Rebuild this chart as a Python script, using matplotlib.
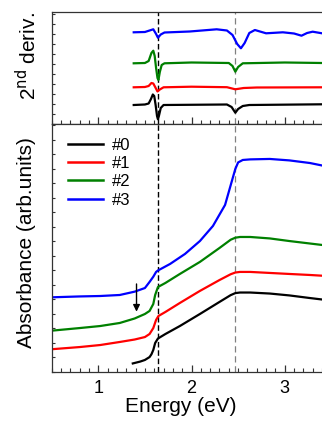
import matplotlib
matplotlib.use("Agg")
import matplotlib.pyplot as plt
from matplotlib.ticker import MultipleLocator, NullFormatter

plt.rcParams['font.family'] = ['Liberation Sans', 'DejaVu Sans']

# ---------------- data ----------------
labels = ["#0", "#1", "#2", "#3"]
colors = ["#000000", "#ff0000", "#008000", "#0000ff"]

# Absorbance (arb. units, offset)
abs0_x = [1.37, 1.45, 1.50, 1.55, 1.57, 1.59, 1.61, 1.64, 1.72, 1.875, 2.09, 2.30, 2.42, 2.47, 2.52, 2.63, 2.84, 3.05, 3.27, 3.40]
abs0_y = [0.59, 0.72, 0.83, 1.03, 1.22, 1.52, 2.00, 2.31, 2.62, 3.17, 4.00, 4.83, 5.30, 5.44, 5.48, 5.48, 5.41, 5.28, 5.10, 5.00]

abs1_x = [0.50, 0.80, 1.02, 1.23, 1.39, 1.50, 1.55, 1.59, 1.62, 1.645, 1.72, 1.875, 2.09, 2.30, 2.42, 2.47, 2.52, 2.63, 2.84, 3.05, 3.27, 3.40]
abs1_y = [1.57, 1.72, 1.86, 2.07, 2.24, 2.41, 2.62, 3.03, 3.59, 3.86, 4.14, 4.76, 5.59, 6.34, 6.74, 6.86, 6.90, 6.90, 6.83, 6.76, 6.69, 6.64]

abs2_x = [0.50, 0.80, 1.02, 1.23, 1.39, 1.50, 1.55, 1.59, 1.61, 1.64, 1.72, 1.875, 2.09, 2.30, 2.42, 2.47, 2.52, 2.63, 2.84, 3.05, 3.27, 3.40]
abs2_y = [2.85, 3.03, 3.17, 3.38, 3.69, 4.00, 4.21, 4.69, 5.31, 5.86, 6.14, 6.76, 7.59, 8.55, 9.12, 9.26, 9.31, 9.31, 9.21, 9.03, 8.86, 8.76]

abs3_x = [0.50, 0.80, 1.02, 1.23, 1.39, 1.50, 1.55, 1.59, 1.62, 1.64, 1.77, 1.93, 2.09, 2.23, 2.36, 2.43, 2.47, 2.50, 2.55, 2.63, 2.84, 3.05, 3.27, 3.40]
abs3_y = [5.15, 5.21, 5.24, 5.31, 5.54, 5.79, 6.21, 6.57, 6.90, 7.00, 7.45, 8.14, 9.03, 10.07, 11.52, 13.10, 14.00, 14.45, 14.62, 14.66, 14.69, 14.59, 14.41, 14.24]

# Second derivative (offset)
d0_x = [1.38, 1.50, 1.54, 1.565, 1.585, 1.60, 1.615, 1.63, 1.64, 1.65, 1.67, 1.70, 2.38, 2.43, 2.47, 2.50, 2.55, 2.62, 3.40]
d0_y = [1.90, 1.95, 2.05, 2.50, 2.95, 2.80, 1.90, 0.80, 0.47, 0.80, 1.60, 1.90, 1.95, 1.70, 1.13, 1.50, 1.80, 1.90, 1.97]

d1_x = [1.38, 1.50, 1.54, 1.57, 1.59, 1.61, 1.635, 1.66, 1.70, 2.00, 2.38, 2.47, 2.56, 2.70, 3.40]
d1_y = [3.67, 3.70, 3.80, 4.10, 4.05, 3.70, 3.25, 3.45, 3.67, 3.73, 3.68, 3.47, 3.60, 3.65, 3.67]

d2_x = [1.38, 1.50, 1.54, 1.57, 1.59, 1.605, 1.62, 1.635, 1.645, 1.66, 1.68, 1.71, 2.00, 2.40, 2.44, 2.47, 2.50, 2.55, 3.00, 3.40]
d2_y = [6.07, 6.10, 6.30, 7.10, 7.33, 6.80, 5.60, 4.60, 4.40, 5.20, 5.90, 6.07, 6.15, 6.10, 5.80, 5.23, 5.70, 6.07, 6.15, 6.10]

d3_x = [1.38, 1.50, 1.55, 1.59, 1.62, 1.64, 1.67, 1.71, 1.98, 2.27, 2.38, 2.44, 2.49, 2.53, 2.57, 2.62, 2.68, 2.80, 2.98, 3.10, 3.18, 3.24, 3.30, 3.40]
d3_y = [9.17, 9.20, 9.35, 9.47, 9.00, 8.63, 8.95, 9.15, 9.25, 9.47, 9.35, 8.90, 8.00, 7.57, 8.10, 9.10, 9.40, 9.07, 9.17, 9.05, 8.83, 9.10, 9.23, 9.07]

abs_x = [abs0_x, abs1_x, abs2_x, abs3_x]
abs_y = [abs0_y, abs1_y, abs2_y, abs3_y]
der_x = [d0_x, d1_x, d2_x, d3_x]
der_y = [d0_y, d1_y, d2_y, d3_y]

edge_black = 1.645
edge_gray = 2.47

# ---------------- figure ----------------
W, H = 322, 423
fig = plt.figure(figsize=(W / 100, H / 100), dpi=100)

left = 51.7 / W
width = 1.0 - left
top_ax = fig.add_axes([left, 1 - 124 / H, width, (124 - 12.3) / H])
bot_ax = fig.add_axes([left, 1 - 372 / H, width, (372 - 124) / H])

lw = 1.6
for xs, ys, c in zip(der_x, der_y, colors):
    top_ax.plot(xs, ys, color=c, lw=lw, solid_joinstyle='round')
for xs, ys, c, lab in zip(abs_x, abs_y, colors, labels):
    bot_ax.plot(xs, ys, color=c, lw=lw, label=lab, solid_joinstyle='round')

for ax in (top_ax, bot_ax):
    ax.axvline(edge_black, color='black', lw=1.0, ls=(0, (4, 2)), zorder=0)
    ax.axvline(edge_gray, color='#808080', lw=0.9, ls=(0, (5, 3)), zorder=0)
    ax.set_xlim(0.5, 3.4)
    ax.spines['right'].set_visible(False)
    for s in ax.spines.values():
        s.set_linewidth(0.9)
        s.set_color('#333333')
    ax.xaxis.set_major_locator(MultipleLocator(1))
    ax.xaxis.set_minor_locator(MultipleLocator(0.1))
    ax.yaxis.set_major_locator(MultipleLocator(1))
    ax.yaxis.set_major_formatter(NullFormatter())
    ax.tick_params(axis='x', which='both', direction='in', top=False, bottom=True, color='#333333')
    ax.tick_params(axis='x', which='major', length=5, width=0.9)
    ax.tick_params(axis='x', which='minor', length=3, width=0.8)
    ax.tick_params(axis='y', which='major', direction='in', length=2.5, width=0.8, left=True, right=False, color='#333333')

top_ax.set_ylim(0, 11.17)
bot_ax.set_ylim(0, 17.1)
top_ax.xaxis.set_major_formatter(NullFormatter())
bot_ax.tick_params(axis='x', which='major', labelsize=13, pad=6)

bot_ax.set_xlabel("Energy (eV)", fontsize=15)
bot_ax.xaxis.label.set_verticalalignment('center')
bot_ax.xaxis.set_label_coords(0.478, -0.141)

bot_ax.set_ylabel("Absorbance (arb.units)", fontsize=15)
bot_ax.yaxis.label.set_verticalalignment('center')
bot_ax.yaxis.set_label_coords(-0.095, 0.52)

top_ax.set_ylabel("2$^{\\rm nd}$ deriv.", fontsize=15)
top_ax.yaxis.label.set_verticalalignment('center')
top_ax.yaxis.set_label_coords(-0.088, 0.604)

bot_ax.annotate('', xy=(1.41, 4.16), xytext=(1.41, 6.07),
                arrowprops=dict(arrowstyle='-|>', color='black', lw=1.0,
                                mutation_scale=10, shrinkA=0, shrinkB=0))

leg = bot_ax.legend(loc='upper left', bbox_to_anchor=(0.06, 0.945), frameon=False,
                    fontsize=12, handlelength=2.1, handletextpad=0.55,
                    labelspacing=0.2, borderpad=0, borderaxespad=0)
for h in leg.get_lines():
    h.set_linewidth(1.8)

fig.savefig("out.png", dpi=100)
